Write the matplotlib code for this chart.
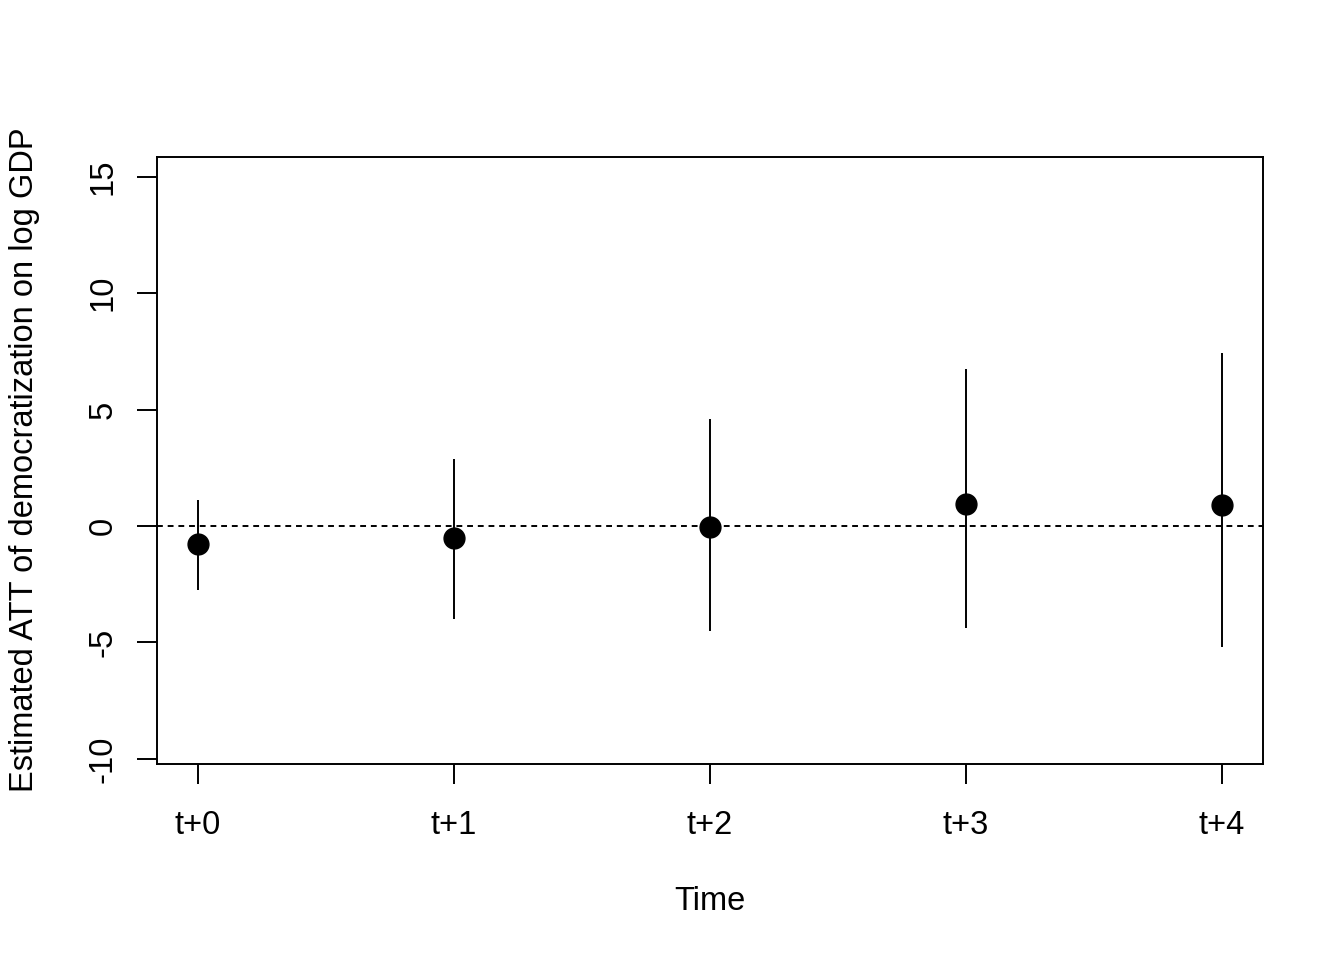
"""Estimated ATT of democratization on log GDP by period after treatment."""

import matplotlib

matplotlib.use("Agg")
import matplotlib.pyplot as plt  # noqa: E402

periodos = ["t+0", "t+1", "t+2", "t+3", "t+4"]
estimado = [-0.77, -0.52, -0.04, 0.94, 0.90]
ic_inferior = [-2.75, -4.0, -4.5, -4.38, -5.2]
ic_superior = [1.12, 2.88, 4.6, 6.74, 7.43]
ticks_y = [-10, -5, 0, 5, 10, 15]

plt.rcParams["font.family"] = ["Liberation Sans", "DejaVu Sans"]
TAM = 23.5

fig = plt.figure(figsize=(13.44, 9.6), dpi=100)
ax = fig.add_axes([157 / 1344, 1 - 764 / 960, (1263 - 157) / 1344, (764 - 157) / 960])

x = list(range(len(periodos)))
ax.vlines(x, ic_inferior, ic_superior, color="black", lw=1.4)
ax.plot(x, estimado, "o", color="black", markersize=15)
ax.axhline(0, color="black", lw=1.4, ls=(0, (3, 2.5)))

ax.set_xlim(-0.16, 4.16)
ax.set_ylim(-10.22, 15.85)
ax.set_xticks(x)
ax.set_xticklabels(periodos)
ax.set_yticks(ticks_y)
ax.set_yticklabels([str(v) for v in ticks_y], rotation=90, va="center")
ax.tick_params(axis="both", direction="out", length=14.4, width=1.4, labelsize=TAM)
ax.tick_params(axis="x", pad=19)
ax.tick_params(axis="y", pad=13)
for lado in ax.spines.values():
    lado.set_linewidth(1.4)

ax.set_xlabel("Time", fontsize=TAM)
ax.set_ylabel("Estimated ATT of democratization on log GDP", fontsize=TAM)
ax.xaxis.set_label_coords(710 / 1344, 1 - 902 / 960, transform=fig.transFigure)
ax.yaxis.set_label_coords(25 / 1344, 1 - 460 / 960, transform=fig.transFigure)
ax.xaxis.label.set_va("center")
ax.yaxis.label.set_va("center")

fig.savefig("out.png", dpi=100)
plt.close(fig)
